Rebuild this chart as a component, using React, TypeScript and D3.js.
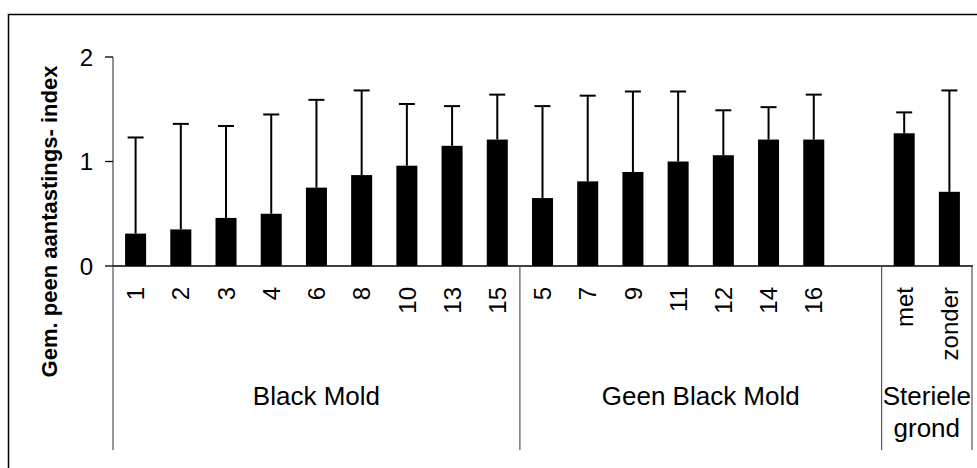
import * as d3 from "d3";

// treatments per group (from the chart)
const blackMold = ["1", "2", "3", "4", "6", "8", "10", "13", "15"];
const geenBlackMold = ["5", "7", "9", "11", "12", "14", "16"];
const sterieleGrond = ["met", "zonder"];

// mean index and upper error (sd) per treatment
const meansBlack = [0.31, 0.35, 0.46, 0.5, 0.75, 0.87, 0.96, 1.15, 1.21];
const sdBlack = [0.92, 1.01, 0.88, 0.95, 0.84, 0.81, 0.59, 0.38, 0.43];
const meansGeen = [0.65, 0.81, 0.9, 1.0, 1.06, 1.21, 1.21];
const sdGeen = [0.88, 0.82, 0.77, 0.67, 0.43, 0.31, 0.43];
const meansSteriel = [1.27, 0.71];
const sdSteriel = [0.2, 0.97];

const yTicks = [0, 1, 2];
const groupLabels = [["Black Mold"], ["Geen Black Mold"], ["Steriele", "grond"]];
const yLabel = "Gem. peen aantastings- index";

const FONT = "'Liberation Sans', Arial, sans-serif";

const App = () => {
  const width = 977;
  const height = 468;
  const x0 = 113;
  const x1 = 972;
  const yBase = 266;

  // one empty slot between "Geen Black Mold" and the sterile soil group
  const gap = "__gap";
  const keys = [
    ...blackMold.map((d) => "b" + d),
    ...geenBlackMold.map((d) => "g" + d),
    gap,
    ...sterieleGrond.map((d) => "s" + d),
  ];
  const rows = [
    ...blackMold.map((d, i) => ({ key: "b" + d, label: d, mean: meansBlack[i], sd: sdBlack[i] })),
    ...geenBlackMold.map((d, i) => ({ key: "g" + d, label: d, mean: meansGeen[i], sd: sdGeen[i] })),
    ...sterieleGrond.map((d, i) => ({ key: "s" + d, label: d, mean: meansSteriel[i], sd: sdSteriel[i] })),
  ];

  const x = d3.scaleBand<string>().domain(keys).range([x0, x1]).paddingInner(0.535).paddingOuter(0.2675);
  const y = d3.scaleLinear().domain([0, 2]).range([yBase, 57]);
  const step = x.step();

  // group boundaries on the category axis
  const groups = [
    { keys: blackMold.map((d) => "b" + d), lines: groupLabels[0] },
    { keys: [...geenBlackMold.map((d) => "g" + d), gap], lines: groupLabels[1] },
    { keys: sterieleGrond.map((d) => "s" + d), lines: groupLabels[2] },
  ].map((g) => {
    const start = (x(g.keys[0]) ?? 0) - (step - x.bandwidth()) / 2;
    const end = start + g.keys.length * step;
    return { ...g, start, end };
  });

  const capHalf = 8;

  return (
    <div style={{ position: "absolute", left: 0, top: 0 }}>
      <svg width={width} height={height} style={{ display: "block", background: "#fff" }}>
        {/* outer frame, runs off the right and bottom edges */}
        <rect x={8.5} y={14.5} width={1000} height={500} fill="none" stroke="#000" strokeWidth={1.5} />

        {/* y axis */}
        <line x1={x0} x2={x0} y1={y(2)} y2={yBase} stroke="#555" strokeWidth={1.3} />
        {yTicks.map((t) => (
          <g key={t}>
            <line x1={x0 - 8} x2={x0} y1={y(t)} y2={y(t)} stroke="#000" strokeWidth={1.3} />
            <text x={x0 - 20} y={y(t)} dy="0.36em" textAnchor="end" fontFamily={FONT} fontSize={24}>
              {t}
            </text>
          </g>
        ))}
        <text
          transform={`translate(57,221.5) rotate(-90)`}
          textAnchor="middle"
          fontFamily={FONT}
          fontWeight="bold"
          fontSize={22}
        >
          {yLabel}
        </text>

        {/* error bars (upper only) */}
        {rows.map((r) => {
          const cx = (x(r.key) ?? 0) + x.bandwidth() / 2;
          const top = y(r.mean + r.sd);
          return (
            <g key={"e" + r.key} stroke="#000" strokeWidth={2}>
              <line x1={cx} x2={cx} y1={y(r.mean)} y2={top} />
              <line x1={cx - capHalf} x2={cx + capHalf} y1={top} y2={top} />
            </g>
          );
        })}

        {/* bars */}
        {rows.map((r) => (
          <rect
            key={"r" + r.key}
            x={x(r.key)}
            y={y(r.mean)}
            width={x.bandwidth()}
            height={yBase - y(r.mean)}
            fill="#000"
          />
        ))}

        {/* category axis */}
        <line x1={x0} x2={x1 + 1} y1={yBase} y2={yBase} stroke="#000" strokeWidth={1.5} />
        {[x0, ...groups.map((g) => g.end)].map((gx, i) => (
          <line key={"d" + i} x1={gx} x2={gx} y1={yBase} y2={450} stroke="#555" strokeWidth={1.2} />
        ))}

        {rows.map((r) => {
          const cx = (x(r.key) ?? 0) + x.bandwidth() / 2;
          return (
            <text
              key={"l" + r.key}
              transform={`translate(${cx},287) rotate(-90)`}
              textAnchor="end"
              dy="0.36em"
              fontFamily={FONT}
              fontSize={24}
            >
              {r.label}
            </text>
          );
        })}

        {groups.map((g, i) => (
          <text key={"g" + i} textAnchor="middle" fontFamily={FONT} fontSize={26}>
            {g.lines.map((line, j) => (
              <tspan key={j} x={(g.start + g.end) / 2} y={405 + j * 32}>
                {line}
              </tspan>
            ))}
          </text>
        ))}
      </svg>
    </div>
  );
};

export default App;
